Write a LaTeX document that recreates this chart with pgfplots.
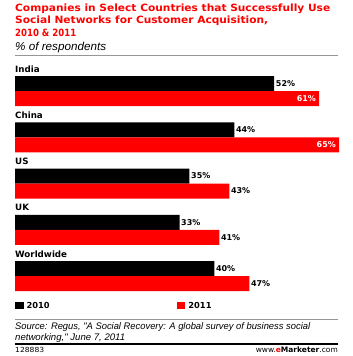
\documentclass[border=0pt]{standalone}
\usepackage{pgfplots}
\pgfplotsset{compat=1.18}
\usepackage{fontspec}
\usepackage{graphicx}
\setmainfont{DejaVu Sans}
\newfontfamily\arialf{Liberation Sans}
\definecolor{emred}{RGB}{255,0,0}
\definecolor{rulegray}{RGB}{150,150,150}
\newcommand{\fs}[1]{\fontsize{#1bp}{#1bp}\selectfont}
\newcommand{\fitw}[2]{\resizebox{#1bp}{\height}{#2}}
\begin{document}
\begin{tikzpicture}
\begin{axis}[name=ax,
  width=353bp, height=356bp, scale only axis,
  xmin=-3.009, xmax=67.8, ymin=0, ymax=356, y dir=reverse,
  hide axis, clip=false]
% 2010 bars
\addplot[xbar, bar shift=0pt, bar width=15, fill=black, draw=none]
  coordinates {(52,83.5) (44,129.75) (35,176) (33,222.25) (40,268.5)};
% 2011 bars
\addplot[xbar, bar shift=0pt, bar width=15, fill=emred, draw=none]
  coordinates {(61,98.5) (65,144.75) (43,191) (41,237.25) (47,283.5)};
% value labels
\begin{scope}[every node/.style={inner sep=0pt, font=\fs{8}\bfseries}]
\node[anchor=west] at (52.3,83.5) {52\%};
\node[anchor=west] at (44.3,129.75) {44\%};
\node[anchor=west] at (35.3,176) {35\%};
\node[anchor=west] at (33.3,222.25) {33\%};
\node[anchor=west] at (40.3,268.5) {40\%};
\node[anchor=east, text=white] at (60.4,98.5) {61\%};
\node[anchor=east, text=white] at (64.4,144.75) {65\%};
\node[anchor=west] at (43.3,191) {43\%};
\node[anchor=west] at (41.3,237.25) {41\%};
\node[anchor=west] at (47.3,283.5) {47\%};
\end{scope}
% category labels
\begin{scope}[every node/.style={inner sep=0pt, anchor=base west, font=\fs{8.7}\bfseries}]
\node at (0,72) {India};
\node at (0,118.25) {China};
\node at (0,164.5) {US};
\node at (0,210.75) {UK};
\node at (0,257) {Worldwide};
\end{scope}
% title
\begin{scope}[every node/.style={inner sep=0pt, anchor=base west, font=\fs{10}\bfseries, text=emred}]
\node at (0,11.5) {\fitw{315}{Companies in Select Countries that Successfully Use}};
\node at (0,24) {\fitw{253}{Social Networks for Customer Acquisition,}};
\node at (0,36.5) {\fitw{61}{2010 \& 2011}};
\end{scope}
\node[inner sep=0pt, anchor=base west, font=\arialf\fs{11.5}\itshape] at (0,50) {\fitw{91}{\% of respondents}};
\draw[rulegray, line width=1bp] (0,56) -- (64.79,56);
% legend
\fill[black] (0,302.3) rectangle (1.8,309);
\node[inner sep=0pt, anchor=base west, font=\fs{8.3}\bfseries] at (2.3,308.5) {2010};
\fill[emred] (32.44,302.3) rectangle (34.2,309);
\node[inner sep=0pt, anchor=base west, font=\fs{8.3}\bfseries] at (34.75,308.5) {2011};
% source
\draw[rulegray, line width=1bp] (0,319) -- (64.79,319);
\node[inner sep=0pt, anchor=base west, font=\arialf\fs{9.5}\itshape] at (0,329.3) {\fitw{295}{Source: Regus, "A Social Recovery: A global survey of business social}};
\node[inner sep=0pt, anchor=base west, font=\arialf\fs{9.5}\itshape] at (0,340) {\fitw{110}{networking," June 7, 2011}};
\draw[black, line width=2bp] (0,343.5) -- (64.79,343.5);
\node[inner sep=0pt, anchor=base west, font=\fs{7}] at (0,352.3) {\fitw{29}{128883}};
\node[inner sep=0pt, anchor=base east, font=\fs{7.5}] at (64.79,352.3) {\fitw{82}{www.\textcolor{emred}{\textbf{e}}\textbf{Marketer}.com}};
\end{axis}
\pgfresetboundingbox
\path[use as bounding box] (ax.south west) rectangle (ax.north east);
\end{tikzpicture}
\end{document}
